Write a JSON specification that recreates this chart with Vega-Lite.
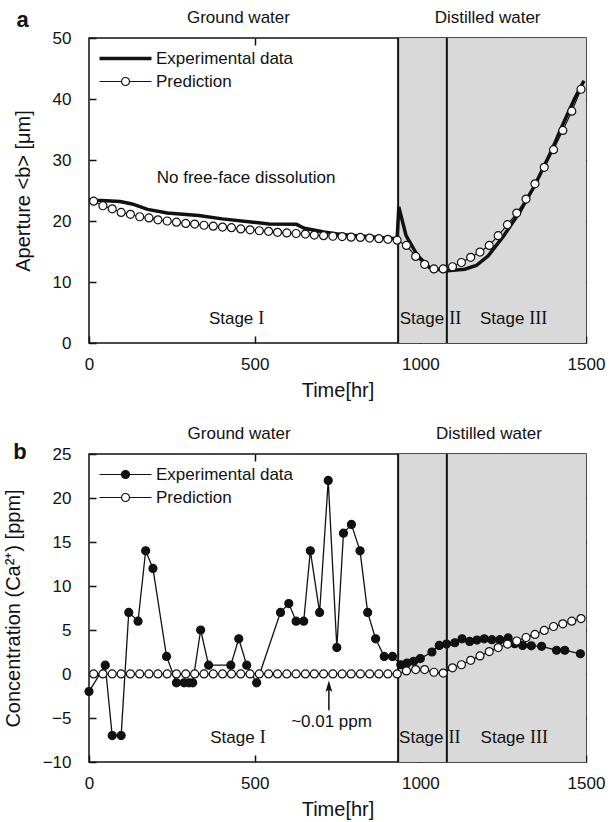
{
  "$schema": "https://vega.github.io/schema/vega-lite/v6.json",
  "padding": {"left": 2, "top": 7, "right": 5, "bottom": 5},
  "spacing": 23,
  "background": "white",
  "resolve": {"scale": {"fill": "independent", "strokeWidth": "independent"}, "legend": {"fill": "independent", "strokeWidth": "independent"}},
  "config": {
    "font": "Liberation Sans",
    "view": {"stroke": "#111", "strokeWidth": 1.5},
    "axis": {"grid": false, "domain": false, "tickColor": "#111", "tickWidth": 1.5, "tickSize": -7, "labelFont": "Liberation Sans", "labelFontSize": 17, "labelColor": "#111", "labelFlush": false, "format": "d", "titleFont": "Liberation Sans", "titleFontSize": 20, "titleFontWeight": "normal", "titleColor": "#111"},
    "axisX": {"labelPadding": 20, "titlePadding": 8},
    "axisY": {"labelPadding": 25, "titlePadding": 19},
    "legend": {"orient": "none", "legendX": 28, "legendY": 12, "labelFont": "Liberation Sans", "labelFontSize": 17, "labelColor": "#111", "symbolSize": 100, "labelOffset": 22, "rowPadding": 5, "padding": 0},
    "text": {"font": "Liberation Sans", "color": "#111"}
  },
  "datasets": {
    "aperture": [
      {"series": "Experimental data", "t": 0, "v": 23.5},
      {"series": "Experimental data", "t": 24, "v": 23.4},
      {"series": "Experimental data", "t": 94, "v": 23.2},
      {"series": "Experimental data", "t": 130, "v": 22.8},
      {"series": "Experimental data", "t": 177, "v": 21.9},
      {"series": "Experimental data", "t": 236, "v": 21.3},
      {"series": "Experimental data", "t": 331, "v": 20.9},
      {"series": "Experimental data", "t": 402, "v": 20.35},
      {"series": "Experimental data", "t": 496, "v": 19.8},
      {"series": "Experimental data", "t": 543, "v": 19.5},
      {"series": "Experimental data", "t": 626, "v": 19.45},
      {"series": "Experimental data", "t": 650, "v": 18.8},
      {"series": "Experimental data", "t": 709, "v": 18.2},
      {"series": "Experimental data", "t": 760, "v": 17.8},
      {"series": "Experimental data", "t": 850, "v": 17.4},
      {"series": "Experimental data", "t": 930, "v": 17.1},
      {"series": "Experimental data", "t": 935, "v": 22.3},
      {"series": "Experimental data", "t": 957, "v": 17.6},
      {"series": "Experimental data", "t": 992, "v": 14.3},
      {"series": "Experimental data", "t": 1027, "v": 12.4},
      {"series": "Experimental data", "t": 1075, "v": 11.8},
      {"series": "Experimental data", "t": 1134, "v": 12.1},
      {"series": "Experimental data", "t": 1169, "v": 12.7},
      {"series": "Experimental data", "t": 1205, "v": 14.3},
      {"series": "Experimental data", "t": 1252, "v": 17.6},
      {"series": "Experimental data", "t": 1299, "v": 21.4},
      {"series": "Experimental data", "t": 1346, "v": 25.9},
      {"series": "Experimental data", "t": 1394, "v": 31.3},
      {"series": "Experimental data", "t": 1429, "v": 35.7},
      {"series": "Experimental data", "t": 1465, "v": 40.0},
      {"series": "Experimental data", "t": 1494, "v": 43.0},
      {"series": "Prediction", "t": 14, "v": 23.25},
      {"series": "Prediction", "t": 42, "v": 22.5},
      {"series": "Prediction", "t": 70, "v": 22.0},
      {"series": "Prediction", "t": 97, "v": 21.4},
      {"series": "Prediction", "t": 125, "v": 21.1},
      {"series": "Prediction", "t": 153, "v": 20.7},
      {"series": "Prediction", "t": 181, "v": 20.5},
      {"series": "Prediction", "t": 208, "v": 20.2},
      {"series": "Prediction", "t": 236, "v": 20.0},
      {"series": "Prediction", "t": 264, "v": 19.8},
      {"series": "Prediction", "t": 292, "v": 19.6},
      {"series": "Prediction", "t": 319, "v": 19.5},
      {"series": "Prediction", "t": 347, "v": 19.3},
      {"series": "Prediction", "t": 375, "v": 19.15},
      {"series": "Prediction", "t": 403, "v": 19.0},
      {"series": "Prediction", "t": 430, "v": 18.9},
      {"series": "Prediction", "t": 458, "v": 18.7},
      {"series": "Prediction", "t": 486, "v": 18.55},
      {"series": "Prediction", "t": 514, "v": 18.4},
      {"series": "Prediction", "t": 542, "v": 18.3},
      {"series": "Prediction", "t": 569, "v": 18.15},
      {"series": "Prediction", "t": 597, "v": 18.05},
      {"series": "Prediction", "t": 625, "v": 17.95},
      {"series": "Prediction", "t": 653, "v": 17.85},
      {"series": "Prediction", "t": 680, "v": 17.7},
      {"series": "Prediction", "t": 708, "v": 17.6},
      {"series": "Prediction", "t": 736, "v": 17.5},
      {"series": "Prediction", "t": 764, "v": 17.45},
      {"series": "Prediction", "t": 791, "v": 17.35},
      {"series": "Prediction", "t": 819, "v": 17.3},
      {"series": "Prediction", "t": 847, "v": 17.2},
      {"series": "Prediction", "t": 875, "v": 17.1},
      {"series": "Prediction", "t": 902, "v": 17.0},
      {"series": "Prediction", "t": 930, "v": 16.85},
      {"series": "Prediction", "t": 958, "v": 16.0},
      {"series": "Prediction", "t": 986, "v": 14.2},
      {"series": "Prediction", "t": 1013, "v": 12.9},
      {"series": "Prediction", "t": 1041, "v": 12.15},
      {"series": "Prediction", "t": 1069, "v": 12.15},
      {"series": "Prediction", "t": 1097, "v": 12.5},
      {"series": "Prediction", "t": 1124, "v": 13.2},
      {"series": "Prediction", "t": 1152, "v": 14.05},
      {"series": "Prediction", "t": 1180, "v": 14.9},
      {"series": "Prediction", "t": 1208, "v": 16.0},
      {"series": "Prediction", "t": 1235, "v": 17.6},
      {"series": "Prediction", "t": 1263, "v": 19.4},
      {"series": "Prediction", "t": 1291, "v": 21.3},
      {"series": "Prediction", "t": 1319, "v": 23.6},
      {"series": "Prediction", "t": 1346, "v": 26.1},
      {"series": "Prediction", "t": 1374, "v": 28.8},
      {"series": "Prediction", "t": 1402, "v": 31.7},
      {"series": "Prediction", "t": 1430, "v": 34.85},
      {"series": "Prediction", "t": 1457, "v": 38.0},
      {"series": "Prediction", "t": 1485, "v": 41.6}
    ],
    "calcium": [
      {"series": "Experimental data", "t": 0, "v": -2},
      {"series": "Experimental data", "t": 49, "v": 1},
      {"series": "Experimental data", "t": 70, "v": -7},
      {"series": "Experimental data", "t": 97, "v": -7},
      {"series": "Experimental data", "t": 120, "v": 7},
      {"series": "Experimental data", "t": 148, "v": 6},
      {"series": "Experimental data", "t": 171, "v": 14},
      {"series": "Experimental data", "t": 193, "v": 12},
      {"series": "Experimental data", "t": 234, "v": 2},
      {"series": "Experimental data", "t": 264, "v": -1},
      {"series": "Experimental data", "t": 287, "v": -1},
      {"series": "Experimental data", "t": 302, "v": -1},
      {"series": "Experimental data", "t": 313, "v": -1},
      {"series": "Experimental data", "t": 337, "v": 5},
      {"series": "Experimental data", "t": 361, "v": 1},
      {"series": "Experimental data", "t": 428, "v": 1},
      {"series": "Experimental data", "t": 452, "v": 4},
      {"series": "Experimental data", "t": 476, "v": 1},
      {"series": "Experimental data", "t": 506, "v": -1},
      {"series": "Experimental data", "t": 578, "v": 7},
      {"series": "Experimental data", "t": 603, "v": 8},
      {"series": "Experimental data", "t": 625, "v": 6},
      {"series": "Experimental data", "t": 648, "v": 6},
      {"series": "Experimental data", "t": 668, "v": 14},
      {"series": "Experimental data", "t": 696, "v": 7},
      {"series": "Experimental data", "t": 722, "v": 22},
      {"series": "Experimental data", "t": 748, "v": 3},
      {"series": "Experimental data", "t": 768, "v": 16},
      {"series": "Experimental data", "t": 792, "v": 17},
      {"series": "Experimental data", "t": 818, "v": 14},
      {"series": "Experimental data", "t": 841, "v": 7},
      {"series": "Experimental data", "t": 865, "v": 4},
      {"series": "Experimental data", "t": 891, "v": 2},
      {"series": "Experimental data", "t": 916, "v": 2},
      {"series": "Experimental data", "t": 941, "v": 1.05},
      {"series": "Experimental data", "t": 960, "v": 1.25},
      {"series": "Experimental data", "t": 980, "v": 1.45},
      {"series": "Experimental data", "t": 1000, "v": 1.75},
      {"series": "Experimental data", "t": 1035, "v": 2.5},
      {"series": "Experimental data", "t": 1057, "v": 3.25},
      {"series": "Experimental data", "t": 1079, "v": 3.4},
      {"series": "Experimental data", "t": 1104, "v": 3.55},
      {"series": "Experimental data", "t": 1126, "v": 4.0},
      {"series": "Experimental data", "t": 1149, "v": 3.7},
      {"series": "Experimental data", "t": 1171, "v": 3.85},
      {"series": "Experimental data", "t": 1193, "v": 4.0},
      {"series": "Experimental data", "t": 1216, "v": 3.9},
      {"series": "Experimental data", "t": 1240, "v": 3.9},
      {"series": "Experimental data", "t": 1265, "v": 4.1},
      {"series": "Experimental data", "t": 1285, "v": 3.45},
      {"series": "Experimental data", "t": 1309, "v": 3.25},
      {"series": "Experimental data", "t": 1335, "v": 3.2},
      {"series": "Experimental data", "t": 1366, "v": 3.15},
      {"series": "Experimental data", "t": 1411, "v": 2.7},
      {"series": "Experimental data", "t": 1436, "v": 2.7},
      {"series": "Experimental data", "t": 1483, "v": 2.3},
      {"series": "Prediction", "t": 14, "v": 0.01},
      {"series": "Prediction", "t": 42, "v": 0.01},
      {"series": "Prediction", "t": 70, "v": 0.01},
      {"series": "Prediction", "t": 97, "v": 0.01},
      {"series": "Prediction", "t": 125, "v": 0.01},
      {"series": "Prediction", "t": 153, "v": 0.01},
      {"series": "Prediction", "t": 181, "v": 0.01},
      {"series": "Prediction", "t": 208, "v": 0.01},
      {"series": "Prediction", "t": 236, "v": 0.01},
      {"series": "Prediction", "t": 264, "v": 0.01},
      {"series": "Prediction", "t": 292, "v": 0.01},
      {"series": "Prediction", "t": 319, "v": 0.01},
      {"series": "Prediction", "t": 347, "v": 0.01},
      {"series": "Prediction", "t": 375, "v": 0.01},
      {"series": "Prediction", "t": 403, "v": 0.01},
      {"series": "Prediction", "t": 430, "v": 0.01},
      {"series": "Prediction", "t": 458, "v": 0.01},
      {"series": "Prediction", "t": 486, "v": 0.01},
      {"series": "Prediction", "t": 514, "v": 0.01},
      {"series": "Prediction", "t": 542, "v": 0.01},
      {"series": "Prediction", "t": 569, "v": 0.01},
      {"series": "Prediction", "t": 597, "v": 0.01},
      {"series": "Prediction", "t": 625, "v": 0.01},
      {"series": "Prediction", "t": 653, "v": 0.01},
      {"series": "Prediction", "t": 680, "v": 0.01},
      {"series": "Prediction", "t": 708, "v": 0.01},
      {"series": "Prediction", "t": 736, "v": 0.01},
      {"series": "Prediction", "t": 764, "v": 0.01},
      {"series": "Prediction", "t": 791, "v": 0.01},
      {"series": "Prediction", "t": 819, "v": 0.01},
      {"series": "Prediction", "t": 847, "v": 0.01},
      {"series": "Prediction", "t": 875, "v": 0.01},
      {"series": "Prediction", "t": 902, "v": 0.01},
      {"series": "Prediction", "t": 930, "v": 0.01},
      {"series": "Prediction", "t": 958, "v": 0.35},
      {"series": "Prediction", "t": 986, "v": 0.5},
      {"series": "Prediction", "t": 1013, "v": 0.5},
      {"series": "Prediction", "t": 1041, "v": 0.2},
      {"series": "Prediction", "t": 1069, "v": 0.1},
      {"series": "Prediction", "t": 1097, "v": 0.7},
      {"series": "Prediction", "t": 1124, "v": 1.05},
      {"series": "Prediction", "t": 1152, "v": 1.55},
      {"series": "Prediction", "t": 1180, "v": 2.05},
      {"series": "Prediction", "t": 1208, "v": 2.55},
      {"series": "Prediction", "t": 1235, "v": 3.0},
      {"series": "Prediction", "t": 1263, "v": 3.4},
      {"series": "Prediction", "t": 1291, "v": 3.75},
      {"series": "Prediction", "t": 1319, "v": 4.15},
      {"series": "Prediction", "t": 1346, "v": 4.5},
      {"series": "Prediction", "t": 1374, "v": 4.95},
      {"series": "Prediction", "t": 1402, "v": 5.4},
      {"series": "Prediction", "t": 1430, "v": 5.7},
      {"series": "Prediction", "t": 1457, "v": 6.0},
      {"series": "Prediction", "t": 1485, "v": 6.3}
    ]
  },
  "vconcat": [
    {
      "width": 497,
      "height": 305,
      "resolve": {"axis": {"x": "independent", "y": "independent"}},
      "layer": [
        {
          "data": {"values": [{"start": 933, "end": 1500}]},
          "mark": {"type": "rect", "color": "#d9d9d9"},
          "encoding": {
            "x": {"field": "start", "type": "quantitative", "scale": {"domain": [0, 1500], "nice": false}, "axis": null},
            "x2": {"field": "end"}
          }
        },
        {
          "data": {"values": [{"t": 933}, {"t": 1080}]},
          "mark": {"type": "rule", "color": "#111", "strokeWidth": 2},
          "encoding": {
            "x": {"field": "t", "type": "quantitative", "scale": {"domain": [0, 1500], "nice": false}, "axis": null}
          }
        },
        {
          "data": {"name": "aperture"},
          "mark": {"type": "line", "color": "#111"},
          "encoding": {
            "x": {"field": "t", "type": "quantitative", "scale": {"domain": [0, 1500], "nice": false}, "axis": {"orient": "bottom", "values": [0, 500, 1000, 1500], "title": "Time[hr]"}},
            "y": {"field": "v", "type": "quantitative", "scale": {"domain": [0, 50], "nice": false}, "axis": {"orient": "left", "values": [0, 10, 20, 30, 40, 50], "title": "Aperture <b> [μm]"}},
            "strokeWidth": {"field": "series", "type": "nominal", "scale": {"domain": ["Experimental data", "Prediction"], "range": [3.5, 1.2]},
              "legend": {"title": null, "symbolType": {"expr": "datum.value === 'Prediction' ? 'M-5.2,0H-0.8M0.8,0H5.2M-0.8,0A0.8,0.8 0 1,0 0.8,0A0.8,0.8 0 1,0 -0.8,0' : 'M-5.2,0H5.2'"}, "symbolFillColor": "white", "symbolStrokeColor": "#111"}}
          }
        },
        {
          "data": {"name": "aperture"},
          "transform": [{"filter": "datum.series === 'Prediction'"}],
          "mark": {"type": "point", "shape": "circle", "filled": true, "fill": "white", "stroke": "#111", "strokeWidth": 1.2, "size": 64, "opacity": 1},
          "encoding": {
            "x": {"field": "t", "type": "quantitative", "scale": {"domain": [0, 1500], "nice": false}, "axis": {"orient": "top", "values": [500, 1000], "labels": false, "title": null}},
            "y": {"field": "v", "type": "quantitative", "scale": {"domain": [0, 50], "nice": false}, "axis": {"orient": "right", "values": [10, 20, 30, 40], "labels": false, "title": null}}
          }
        },
        {
          "data": {"values": [
            {"t": 451, "v": 53.3, "label": "Ground water"},
            {"t": 1203, "v": 53.3, "label": "Distilled water"},
            {"t": 474, "v": 27.1, "label": "No free-face dissolution"}
          ]},
          "mark": {"type": "text", "fontSize": 17, "align": "center", "baseline": "middle"},
          "encoding": {
            "x": {"field": "t", "type": "quantitative", "scale": {"domain": [0, 1500], "nice": false}, "axis": null},
            "y": {"field": "v", "type": "quantitative", "scale": {"domain": [0, 50], "nice": false}, "axis": null},
            "text": {"field": "label"}
          }
        },
        {
          "data": {"values": [{"t": -200, "v": 53.0, "label": "a"}]},
          "mark": {"type": "text", "fontSize": 22, "fontWeight": "bold", "align": "center", "baseline": "middle"},
          "encoding": {
            "x": {"field": "t", "type": "quantitative", "scale": {"domain": [0, 1500], "nice": false}, "axis": null},
            "y": {"field": "v", "type": "quantitative", "scale": {"domain": [0, 50], "nice": false}, "axis": null},
            "text": {"field": "label"}
          }
        },
        {
          "data": {"values": [
            {"t": 502, "v": 3.9, "word": "Stage", "num": "I"},
            {"t": 1078, "v": 3.9, "word": "Stage", "num": "II"},
            {"t": 1320, "v": 3.9, "word": "Stage", "num": "III"}
          ]},
          "mark": {"type": "text", "fontSize": 17, "align": "right", "baseline": "middle", "dx": -2},
          "encoding": {
            "x": {"field": "t", "type": "quantitative", "scale": {"domain": [0, 1500], "nice": false}, "axis": null},
            "y": {"field": "v", "type": "quantitative", "scale": {"domain": [0, 50], "nice": false}, "axis": null},
            "text": {"field": "word"}
          }
        },
        {
          "data": {"values": [
            {"t": 502, "v": 3.9, "word": "Stage", "num": "I"},
            {"t": 1078, "v": 3.9, "word": "Stage", "num": "II"},
            {"t": 1320, "v": 3.9, "word": "Stage", "num": "III"}
          ]},
          "mark": {"type": "text", "fontSize": 18, "font": "Liberation Serif", "align": "left", "baseline": "middle", "dx": 3},
          "encoding": {
            "x": {"field": "t", "type": "quantitative", "scale": {"domain": [0, 1500], "nice": false}, "axis": null},
            "y": {"field": "v", "type": "quantitative", "scale": {"domain": [0, 50], "nice": false}, "axis": null},
            "text": {"field": "num"}
          }
        }
      ]
    },
    {
      "width": 497,
      "height": 308,
      "resolve": {"axis": {"x": "independent", "y": "independent"}},
      "layer": [
        {
          "data": {"values": [{"start": 933, "end": 1500}]},
          "mark": {"type": "rect", "color": "#d9d9d9"},
          "encoding": {
            "x": {"field": "start", "type": "quantitative", "scale": {"domain": [0, 1500], "nice": false}, "axis": null},
            "x2": {"field": "end"}
          }
        },
        {
          "data": {"values": [{"t": 933}, {"t": 1080}]},
          "mark": {"type": "rule", "color": "#111", "strokeWidth": 2},
          "encoding": {
            "x": {"field": "t", "type": "quantitative", "scale": {"domain": [0, 1500], "nice": false}, "axis": null}
          }
        },
        {
          "data": {"name": "calcium"},
          "mark": {"type": "line", "color": "#111", "strokeWidth": 1.3},
          "encoding": {
            "x": {"field": "t", "type": "quantitative", "scale": {"domain": [0, 1500], "nice": false}, "axis": {"orient": "bottom", "values": [0, 500, 1000, 1500], "title": "Time[hr]"}},
            "y": {"field": "v", "type": "quantitative", "scale": {"domain": [-10, 25], "nice": false}, "axis": {"orient": "left", "values": [-10, -5, 0, 5, 10, 15, 20, 25], "title": "Concentration (Ca²⁺) [ppm]"}},
            "detail": {"field": "series", "type": "nominal"}
          }
        },
        {
          "data": {"name": "calcium"},
          "mark": {"type": "point", "shape": "circle", "filled": true, "stroke": "#111", "strokeWidth": 1.2, "size": 64, "opacity": 1},
          "encoding": {
            "x": {"field": "t", "type": "quantitative", "scale": {"domain": [0, 1500], "nice": false}, "axis": {"orient": "top", "values": [500, 1000], "labels": false, "title": null}},
            "y": {"field": "v", "type": "quantitative", "scale": {"domain": [-10, 25], "nice": false}, "axis": {"orient": "right", "values": [-5, 0, 5, 10, 15, 20], "labels": false, "title": null}},
            "fill": {"field": "series", "type": "nominal", "scale": {"domain": ["Experimental data", "Prediction"], "range": ["#111", "white"]},
              "legend": {"title": null, "symbolType": "M-5.2,0H-0.8M0.8,0H5.2M-0.8,0A0.8,0.8 0 1,0 0.8,0A0.8,0.8 0 1,0 -0.8,0", "symbolStrokeColor": "#111", "symbolStrokeWidth": 1.2}}
          }
        },
        {
          "data": {"values": [
            {"t": 453, "v": 27.3, "label": "Ground water"},
            {"t": 1207, "v": 27.3, "label": "Distilled water"},
            {"t": 732, "v": -5.46, "label": "~0.01 ppm"}
          ]},
          "mark": {"type": "text", "fontSize": 17, "align": "center", "baseline": "middle"},
          "encoding": {
            "x": {"field": "t", "type": "quantitative", "scale": {"domain": [0, 1500], "nice": false}, "axis": null},
            "y": {"field": "v", "type": "quantitative", "scale": {"domain": [-10, 25], "nice": false}, "axis": null},
            "text": {"field": "label"}
          }
        },
        {
          "data": {"values": [{"t": -208, "v": 25.2, "label": "b"}]},
          "mark": {"type": "text", "fontSize": 22, "fontWeight": "bold", "align": "center", "baseline": "middle"},
          "encoding": {
            "x": {"field": "t", "type": "quantitative", "scale": {"domain": [0, 1500], "nice": false}, "axis": null},
            "y": {"field": "v", "type": "quantitative", "scale": {"domain": [-10, 25], "nice": false}, "axis": null},
            "text": {"field": "label"}
          }
        },
        {
          "data": {"values": [{"t": 724, "v1": -4.13, "v2": -1.6}]},
          "mark": {"type": "rule", "color": "#111", "strokeWidth": 1.5},
          "encoding": {
            "x": {"field": "t", "type": "quantitative", "scale": {"domain": [0, 1500], "nice": false}, "axis": null},
            "y": {"field": "v1", "type": "quantitative", "scale": {"domain": [-10, 25], "nice": false}, "axis": null},
            "y2": {"field": "v2"}
          }
        },
        {
          "data": {"values": [{"t": 724, "v": -1.4}]},
          "mark": {"type": "point", "shape": "M0,-1L0.6,1L0,0.55L-0.6,1Z", "filled": true, "color": "#111", "size": 130, "opacity": 1},
          "encoding": {
            "x": {"field": "t", "type": "quantitative", "scale": {"domain": [0, 1500], "nice": false}, "axis": null},
            "y": {"field": "v", "type": "quantitative", "scale": {"domain": [-10, 25], "nice": false}, "axis": null}
          }
        },
        {
          "data": {"values": [
            {"t": 506, "v": -7.27, "word": "Stage", "num": "I"},
            {"t": 1076, "v": -7.27, "word": "Stage", "num": "II"},
            {"t": 1322, "v": -7.27, "word": "Stage", "num": "III"}
          ]},
          "mark": {"type": "text", "fontSize": 17, "align": "right", "baseline": "middle", "dx": -2},
          "encoding": {
            "x": {"field": "t", "type": "quantitative", "scale": {"domain": [0, 1500], "nice": false}, "axis": null},
            "y": {"field": "v", "type": "quantitative", "scale": {"domain": [-10, 25], "nice": false}, "axis": null},
            "text": {"field": "word"}
          }
        },
        {
          "data": {"values": [
            {"t": 506, "v": -7.27, "word": "Stage", "num": "I"},
            {"t": 1076, "v": -7.27, "word": "Stage", "num": "II"},
            {"t": 1322, "v": -7.27, "word": "Stage", "num": "III"}
          ]},
          "mark": {"type": "text", "fontSize": 18, "font": "Liberation Serif", "align": "left", "baseline": "middle", "dx": 3},
          "encoding": {
            "x": {"field": "t", "type": "quantitative", "scale": {"domain": [0, 1500], "nice": false}, "axis": null},
            "y": {"field": "v", "type": "quantitative", "scale": {"domain": [-10, 25], "nice": false}, "axis": null},
            "text": {"field": "num"}
          }
        }
      ]
    }
  ]
}
